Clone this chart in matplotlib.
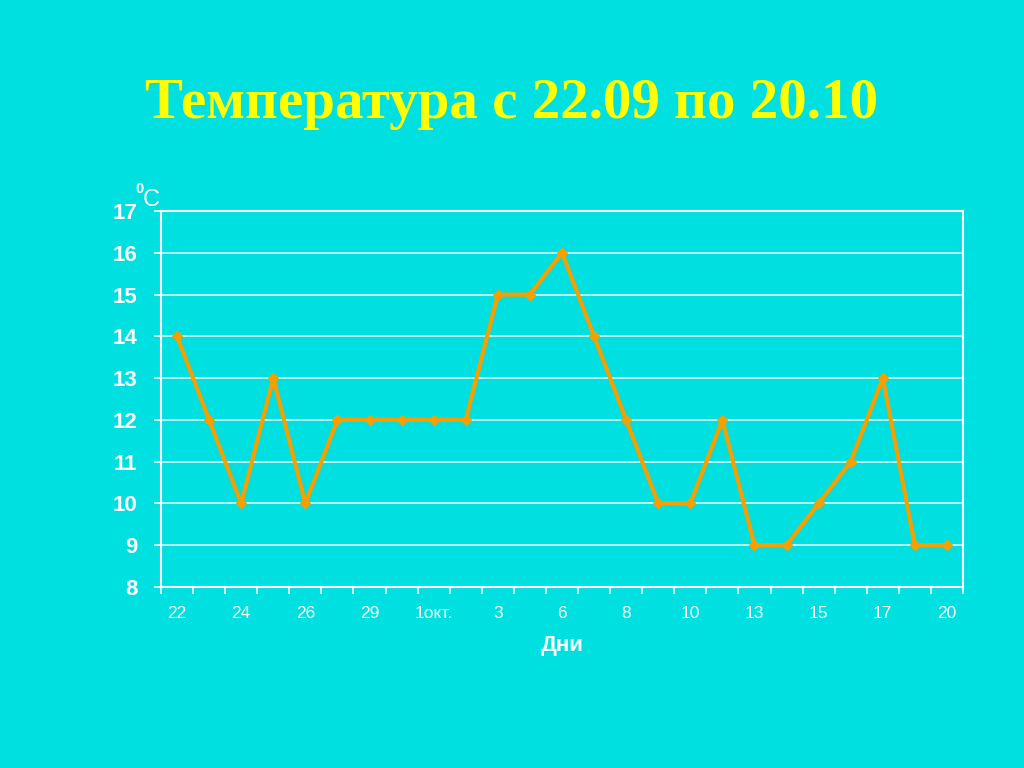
import matplotlib.pyplot as plt
import numpy as np

# temperature readings, one per observation day
temps = [14, 12, 10, 13, 10, 12, 12, 12, 12, 12, 15, 15, 16,
         14, 12, 10, 10, 12, 9, 9, 10, 11, 13, 9, 9]
# only every other day is labelled on the axis
day_labels = ["22", "", "24", "", "26", "", "29", "", "1окт.", "", "3", "",
              "6", "", "8", "", "10", "", "13", "", "15", "", "17", "", "20"]
y_ticks = list(range(8, 18))

bg = "#00E0E0"
orange = "#F5A000"

fig = plt.figure(figsize=(10.24, 7.68), dpi=100, facecolor=bg)
ax = fig.add_axes([161 / 1024, 1 - 587 / 768, 802 / 1024, 376 / 768])
ax.set_facecolor(bg)

x = np.arange(len(temps))
ax.plot(x, temps, color=orange, lw=3, marker="D", ms=5, zorder=3)

ax.set_xlim(-0.5, len(temps) - 0.5)
ax.set_ylim(8, 17)
ax.set_yticks(y_ticks)
ax.set_yticklabels([str(v) for v in y_ticks], fontsize=16, fontweight="bold",
                   color="white", family="Liberation Sans")
ax.grid(axis="y", color="white", lw=1.2, alpha=0.85)
ax.set_axisbelow(True)

ax.set_xticks(x)
ax.set_xticklabels(day_labels, fontsize=12.5, color="white", family="Liberation Sans")
ax.set_xticks(np.arange(-0.5, len(temps), 1), minor=True)
ax.tick_params(axis="x", which="major", length=0, pad=14)
ax.tick_params(axis="x", which="minor", length=5, width=1.2, color="white", direction="out")
ax.tick_params(axis="y", length=5, width=1.2, color="white", direction="out", pad=12)

for side in ["left", "right", "top", "bottom"]:
    ax.spines[side].set_color("white")
    ax.spines[side].set_linewidth(1.5)

ax.set_xlabel("Дни", fontsize=16, fontweight="bold", color="white",
              family="Liberation Sans", labelpad=10)

fig.text(143 / 1024, 1 - 200 / 768, "C", fontsize=17, color="white",
         family="Liberation Sans", ha="left", va="center")
fig.text(135 / 1024, 1 - 189 / 768, "0", fontsize=10.5, color="white",
         fontweight="bold", family="Liberation Sans", ha="left", va="center")

fig.text(0.5, 1 - 104 / 768, "Температура с 22.09 по 20.10", fontsize=41,
         fontweight="bold", color="#FFFF00", family="Liberation Serif",
         ha="center", va="center")

plt.savefig("out.png", dpi=100, facecolor=bg)
